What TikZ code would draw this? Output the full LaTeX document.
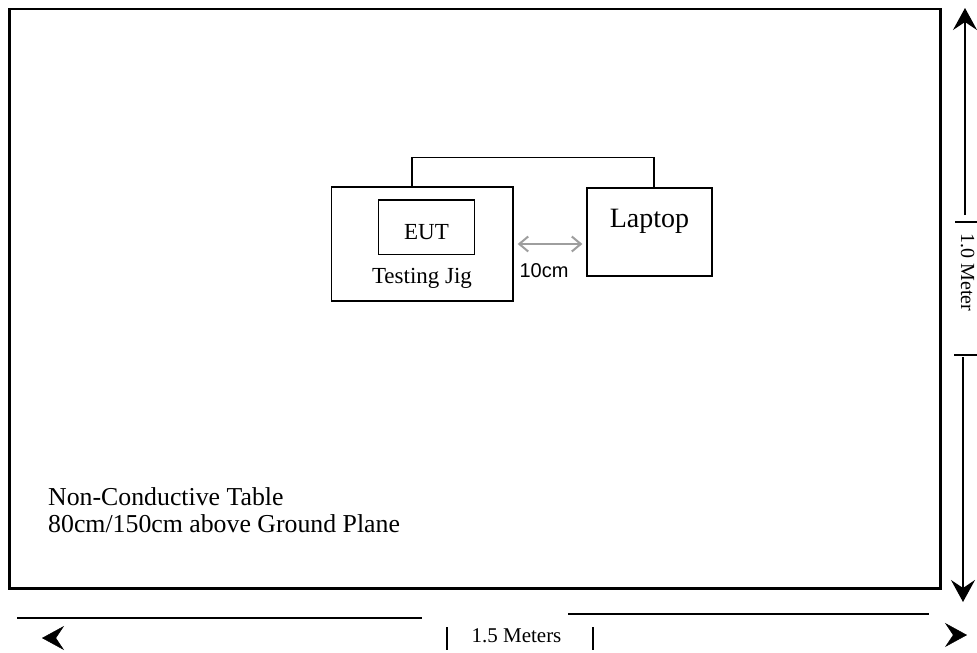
\documentclass[tikz,border=0pt]{standalone}
\usepackage{fontspec}
\setmainfont{Liberation Serif}
\newfontfamily\gapfont{Liberation Sans}
\usetikzlibrary{arrows.meta,calc}

\tikzset{
  box/.style={draw, line width=1.3pt, inner sep=0pt},
  lbl/.style={inner sep=0pt, anchor=base},
  dimline/.style={line width=1.5pt},
  dimtip/.style={-{Stealth[length=22pt, width=24pt, inset=8pt]}},
  gaparrow/.style={draw=black!38, line width=2pt,
    {Straight Barb[length=9pt, width=15pt]}-{Straight Barb[length=9pt, width=15pt]}}
}

\begin{document}
\begin{tikzpicture}[x=1pt, y=-1pt]
  \useasboundingbox (0,0) rectangle (977,653);
  \node[draw, line width=2.8pt, inner sep=0pt, minimum width=931pt,
    minimum height=579.5pt] (table) at (475,298.75) {};
  \node[lbl, anchor=base west, font=\fontsize{25.8}{30}\selectfont]
    (tablename) at (48,505) {Non-Conductive Table};
  \node[lbl, anchor=base west, font=\fontsize{25.8}{30}\selectfont]
    (tableheight) at (48,532.5) {80cm/150cm above Ground Plane};

  \node[box, minimum width=181.5pt, minimum height=114pt] (jig) at (422.25,244) {};
  \node[box, minimum width=96pt, minimum height=54.5pt] (eut) at (426.5,227.25) {};
  \node[lbl, font=\fontsize{23}{27}\selectfont] (eutname) at (426.5,239.3) {EUT};
  \node[lbl, font=\fontsize{23}{27}\selectfont] (jigname) at (422,283.5) {Testing Jig};
  \node[box, minimum width=125pt, minimum height=88pt] (laptop) at (649.5,232) {};
  \node[lbl, font=\fontsize{28}{32}\selectfont] (laptopname) at (649.5,227.5) {Laptop};

  \draw[line width=1.3pt] ([xshift=-10.25pt]jig.north) -- ++(0,-29)
    -| ([xshift=4.5pt]laptop.north);
  \draw[gaparrow] ([xshift=4pt]jig.east) -- ($(laptop.west |- jig.east)+(-4,0)$);
  \node[lbl, font=\gapfont\fontsize{20}{24}\selectfont] (gap) at (544,277.7) {10cm};

  \coordinate (uptip) at (965,8);
  \coordinate (downtip) at (963,602);
  \draw[dimline, dimtip] (965,215) -- (uptip);
  \draw[dimline, dimtip] (963,357) -- (downtip);
  \draw[dimline] (955,222) -- +(22,0) (954,355) -- +(23,0);
  \node[lbl, rotate=-90, font=\fontsize{20}{24}\selectfont] (height) at (961,272.5)
    {1.0 Meter};

  \coordinate (lefttip) at (42,638);
  \coordinate (righttip) at (967,635);
  \draw[line width=2pt] (17,617.5) -- (422,617.5) (568,613.5) -- (929,613.5);
  \draw[dimline] (447,627) -- (447,650) (593,627) -- (593,650);
  \draw[dimtip] ([xshift=1pt]lefttip) -- (lefttip);
  \draw[dimtip] ([xshift=-1pt]righttip) -- (righttip);
  \node[lbl, font=\fontsize{21}{24}\selectfont] (width) at (516.5,642) {1.5 Meters};
\end{tikzpicture}
\end{document}
